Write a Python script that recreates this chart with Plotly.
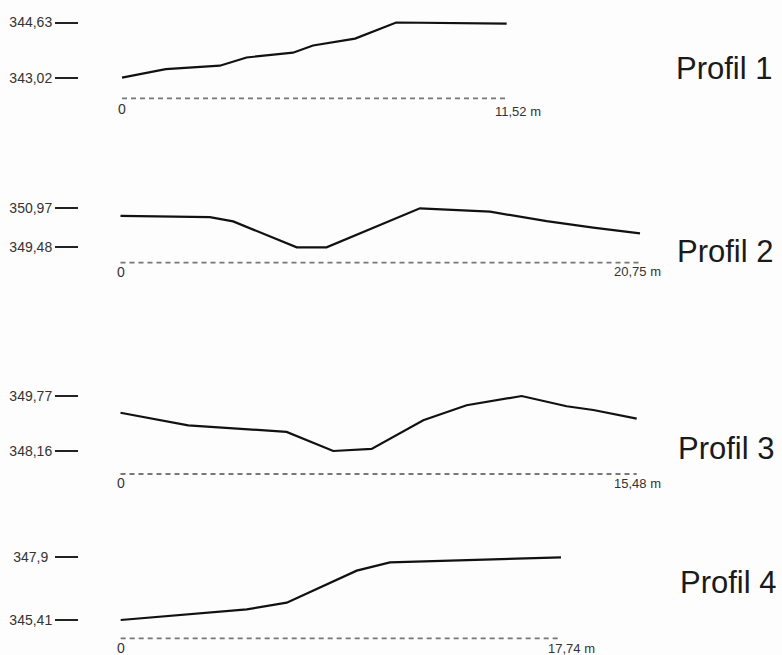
import plotly.graph_objects as go

# ---------------- data ----------------
dist1 = [0, 0.74, 1.31, 2.93, 3.73, 5.12, 5.72, 6.98, 8.21, 11.52]
elev1 = [343.02, 343.17, 343.27, 343.37, 343.61, 343.75, 343.96, 344.16, 344.63, 344.60]

dist2 = [0, 3.57, 4.50, 7.04, 8.23, 11.96, 14.76, 17.02, 18.88, 20.75]
elev2 = [350.68, 350.63, 350.47, 349.48, 349.48, 350.97, 350.84, 350.48, 350.23, 350.01]

dist3 = [0, 2.03, 4.98, 6.38, 7.53, 9.08, 10.38, 12.03, 13.38, 14.18, 15.48]
elev3 = [349.28, 348.91, 348.72, 348.16, 348.22, 349.06, 349.50, 349.77, 349.47, 349.36, 349.11]

dist4 = [0, 5.08, 6.69, 9.51, 10.85, 17.74]
elev4 = [345.41, 345.83, 346.10, 347.37, 347.70, 347.90]

tick_vals = [[343.02, 344.63], [349.48, 350.97], [348.16, 349.77], [345.41, 347.90]]
tick_text = [["343,02", "344,63"], ["349,48", "350,97"], ["348,16", "349,77"], ["345,41", "347,9\u00a0"]]
lengths = [11.52, 20.75, 15.48, 17.74]
length_text = ["11,52 m", "20,75 m", "15,48 m", "17,74 m"]
names = ["Profil 1", "Profil 2", "Profil 3", "Profil 4"]

dists = [dist1, dist2, dist3, dist4]
elevs = [elev1, elev2, elev3, elev4]

# ---------------- layout (pixel anchors) ----------------
W, H = 782, 655
x0_px = [122, 120.5, 120.5, 120.7]
xL_px = [506.7, 640, 636.7, 561]
ylo_px = [77.7, 247.3, 451, 620]
yhi_px = [22.5, 208.3, 396, 557.3]
base_px = [98.3, 262.7, 474, 638.3]
zero_y_px = [109, 272, 483, 648]
len_y_px = [111, 271, 483, 648]
len_shift = [-14, -28, -25, -15]
name_y_px = [68, 251, 448, 582]
name_x_px = [724, 724.5, 725.5, 727.5]
axis_x_px = 78

fig = go.Figure()
shapes = []
annotations = []
lay = {}

for i in range(4):
    n = "" if i == 0 else str(i + 1)
    xa, ya = "x" + n, "y" + n
    L = lengths[i]
    sx = (xL_px[i] - x0_px[i]) / L
    xr = [-x0_px[i] / sx, (W - x0_px[i]) / sx]
    zmin, zmax = tick_vals[i]
    sy = (ylo_px[i] - yhi_px[i]) / (zmax - zmin)
    yr = [zmin - (H - ylo_px[i]) / sy, zmax + yhi_px[i] / sy]

    fig.add_trace(go.Scatter(
        x=dists[i], y=elevs[i], mode="lines",
        line=dict(color="#111111", width=2.2),
        xaxis=xa, yaxis=ya, showlegend=False, hoverinfo="skip"))

    lay["xaxis" + n] = dict(domain=[0, 1], range=xr, visible=False,
                           anchor=ya, fixedrange=True)
    lay["yaxis" + n] = dict(domain=[0, 1], range=yr, anchor="free",
                           position=axis_x_px / W, showgrid=False,
                           zeroline=False, showline=False, ticks="outside",
                           ticklen=23, tickwidth=2, tickcolor="#222222",
                           tickvals=tick_vals[i], ticktext=tick_text[i],
                           tickfont=dict(family="Liberation Sans", size=14,
                                         color="#333333"),
                           automargin=False, fixedrange=True)

    yb = 1 - base_px[i] / H
    shapes.append(dict(type="line", xref=xa, yref="paper", x0=0, x1=L,
                       y0=yb, y1=yb,
                       line=dict(color="#777777", width=1.8, dash="5px,4px")))
    annotations.append(dict(x=0, xref=xa, y=1 - zero_y_px[i] / H, yref="paper",
                            text="0", showarrow=False, xanchor="center",
                            yanchor="middle",
                            font=dict(family="Liberation Sans", size=14,
                                      color="#333333")))
    annotations.append(dict(x=L, xref=xa, y=1 - len_y_px[i] / H, yref="paper",
                            text=length_text[i], showarrow=False,
                            xanchor="left", yanchor="middle", xshift=len_shift[i],
                            font=dict(family="Liberation Sans", size=13,
                                      color="#333333")))
    annotations.append(dict(x=name_x_px[i] / W, xref="paper",
                            y=1 - name_y_px[i] / H, yref="paper",
                            text=names[i], showarrow=False,
                            xanchor="center", yanchor="middle",
                            font=dict(family="Liberation Sans", size=31,
                                      color="#1a1a1a")))

fig.update_layout(
    width=W, height=H,
    margin=dict(l=0, r=0, t=0, b=0, pad=0),
    paper_bgcolor="#fdfdfd",
    plot_bgcolor="rgba(0,0,0,0)",
    shapes=shapes,
    annotations=annotations,
    showlegend=False,
    **lay,
)

fig.write_html(
    "out.html",
    config={"displayModeBar": False},
    post_script="document.body.style.margin='0';document.body.style.overflow='hidden';",
)
